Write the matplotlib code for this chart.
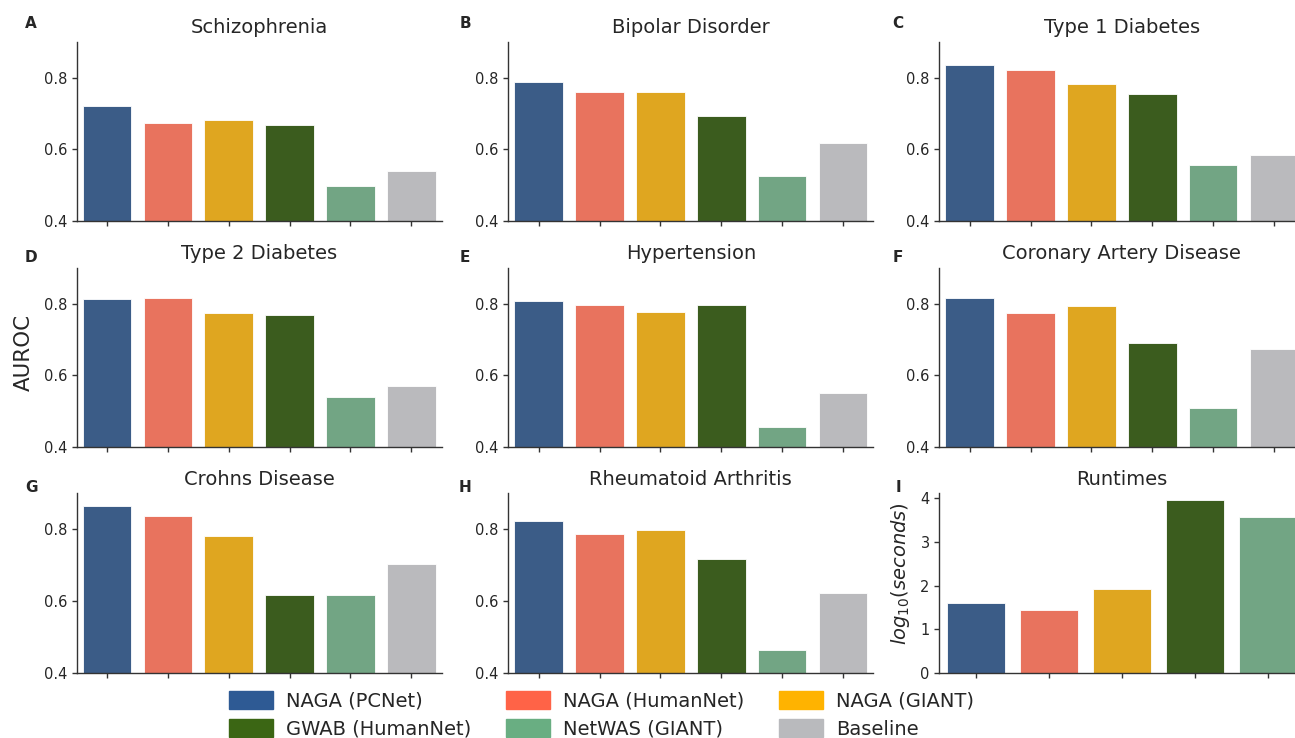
import matplotlib
matplotlib.use("Agg")
import matplotlib.pyplot as plt
import matplotlib.patches as mpatches
import seaborn as sns

# methods and colours (legend uses full colours, bars are desaturated like seaborn)
methods = ["NAGA (PCNet)", "NAGA (HumanNet)", "NAGA (GIANT)",
           "GWAB (HumanNet)", "NetWAS (GIANT)", "Baseline"]
palette = ["#2e5a94", "#ff6347", "#ffb300", "#3b6614", "#69ae82", "#b9babd"]

diseases = ["Schizophrenia", "Bipolar Disorder", "Type 1 Diabetes",
            "Type 2 Diabetes", "Hypertension", "Coronary Artery Disease",
            "Crohns Disease", "Rheumatoid Arthritis"]

schizophrenia = [0.720, 0.674, 0.681, 0.669, 0.499, 0.541]
bipolar = [0.787, 0.759, 0.759, 0.694, 0.526, 0.618]
t1d = [0.834, 0.822, 0.783, 0.755, 0.557, 0.585]
t2d = [0.812, 0.816, 0.773, 0.769, 0.541, 0.572]
hypertension = [0.807, 0.795, 0.777, 0.795, 0.456, 0.552]
cad = [0.816, 0.773, 0.792, 0.691, 0.509, 0.673]
crohns = [0.864, 0.836, 0.782, 0.618, 0.618, 0.704]
ra = [0.822, 0.786, 0.798, 0.716, 0.463, 0.622]
auroc = [schizophrenia, bipolar, t1d, t2d, hypertension, cad, crohns, ra]

runtime_methods = methods[:5]
runtime_log10 = [1.60, 1.44, 1.92, 3.95, 3.56]

letters = ["A", "B", "C", "D", "E", "F", "G", "H", "I"]

W, H = 1295, 738
col_left = [76.7, 508.3, 939.3]
row_top = [41.7, 267.7, 493.3]
ax_w, ax_h = 365, 179.6
letter_x = [31, 465, 898]
letter_y = [24, 258, 488]

sns.set_style("ticks")
plt.rcParams.update({
    "font.family": ["DejaVu Sans"],
    "axes.edgecolor": "#333333",
    "axes.linewidth": 1.0,
    "xtick.color": "#333333",
    "ytick.color": "#333333",
    "xtick.labelcolor": "#262626",
    "ytick.labelcolor": "#262626",
    "xtick.major.size": 3.5,
    "ytick.major.size": 3.5,
    "xtick.major.width": 1.0,
    "ytick.major.width": 1.0,
})

fig = plt.figure(figsize=(W / 100, H / 100), dpi=100)


def make_ax(i):
    r, c = divmod(i, 3)
    rect = [col_left[c] / W, 1 - (row_top[r] + ax_h) / H, ax_w / W, ax_h / H]
    ax = fig.add_axes(rect)
    fig.text(letter_x[c] / W, 1 - letter_y[r] / H, letters[i],
             fontsize=11, fontweight="bold", ha="center", va="center")
    return ax


bar_colors = [sns.desaturate(c, 0.75) for c in palette]

for i, (name, vals) in enumerate(zip(diseases, auroc)):
    ax = make_ax(i)
    x = range(len(vals))
    ax.bar(x, vals, width=0.8, color=bar_colors, edgecolor="white", linewidth=0.6)
    ax.set_xlim(-0.5, len(vals) - 0.5)
    ax.set_ylim(0.4, 0.9)
    ax.set_yticks([0.4, 0.6, 0.8])
    ax.set_xticks(list(x))
    ax.set_xticklabels([])
    ax.tick_params(axis="y", labelsize=10.5)
    ax.set_title(name, fontsize=14, pad=6)
    sns.despine(ax=ax)

# runtimes panel
ax = make_ax(8)
x = range(len(runtime_log10))
ax.bar(x, runtime_log10, width=0.8, color=bar_colors[:5], edgecolor="white", linewidth=0.6)
ax.set_xlim(-0.5, len(runtime_log10) - 0.5)
ax.set_ylim(0, 4.11)
ax.set_yticks([0, 1, 2, 3, 4])
ax.set_xticks(list(x))
ax.set_xticklabels([])
ax.tick_params(axis="y", labelsize=10.5)
ax.set_title("Runtimes", fontsize=14, pad=6)
ax.set_ylabel("$log_{10}(seconds)$", fontsize=14)
ax.yaxis.set_label_coords(-0.075, 0.556)
sns.despine(ax=ax)

fig.text(24 / W, 1 - 352 / H, "AUROC", fontsize=15.4, rotation=90,
         ha="center", va="center")

# legend is filled row by row in the reference
handles = [mpatches.Patch(color=c, label=m) for c, m in zip(palette, methods)]
order = [0, 3, 1, 4, 2, 5]
fig.legend(handles=[handles[k] for k in order], ncol=3, frameon=False,
           fontsize=14, handlelength=2.3, handleheight=1.05, handletextpad=0.67,
           columnspacing=1.75, labelspacing=0.45,
           loc="upper left", bbox_to_anchor=(211 / W, 1 - 673 / H))

fig.savefig("out.png", dpi=100)
